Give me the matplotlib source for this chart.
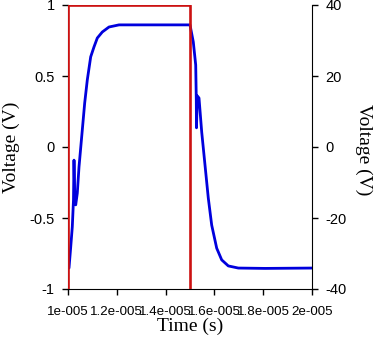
import matplotlib
matplotlib.use("Agg")
import matplotlib.pyplot as plt

# Square pulse (left axis, V)
pulse_t = [1.0e-5, 1.0e-5, 1.5e-5, 1.5e-5]
pulse_v = [-1.0, 1.0, 1.0, -1.0]

# Response (right axis, V)
resp_t = [1.0000e-5, 1.0041e-5, 1.0111e-5, 1.0176e-5, 1.0225e-5, 1.0246e-5, 1.0279e-5,
          1.0316e-5, 1.0381e-5, 1.0451e-5, 1.0586e-5, 1.0684e-5, 1.0791e-5, 1.0930e-5,
          1.1066e-5, 1.1201e-5, 1.1406e-5, 1.1680e-5, 1.2090e-5, 1.5000e-5, 1.5135e-5,
          1.5234e-5, 1.5258e-5, 1.5266e-5, 1.5299e-5, 1.5369e-5, 1.5480e-5, 1.5615e-5,
          1.5750e-5, 1.5889e-5, 1.6094e-5, 1.6299e-5, 1.6570e-5, 1.6980e-5, 1.8074e-5,
          2.0000e-5]
resp_v = [-34.1, -34.1, -28.2, -22.5, -14.9, -3.7, -14.9,
          -16.3, -13.0, -5.6, 4.8, 12.4, 18.9, 25.4,
          28.2, 30.7, 32.4, 33.8, 34.4, 34.4, 29.6,
          23.1, 13.2, 5.4, 14.4, 13.8, 4.2, -5.1,
          -14.4, -22.0, -28.5, -31.8, -33.5, -34.1, -34.2,
          -34.1]

x_ticks = [1.0e-5, 1.2e-5, 1.4e-5, 1.6e-5, 1.8e-5, 2.0e-5]
x_labels = ["1e-005", "1.2e-005", "1.4e-005", "1.6e-005", "1.8e-005", "2e-005"]
left_ticks = [-1, -0.5, 0, 0.5, 1]
left_labels = ["-1", "-0.5", "0", "0.5", "1"]
right_ticks = [-40, -20, 0, 20, 40]
right_labels = ["-40", "-20", "0", "20", "40"]

fig = plt.figure(figsize=(3.79, 3.51), dpi=100)
ax = fig.add_axes([68/379, 1-289/351, (312-68)/379, (289-5)/351])
ax2 = ax.twinx()

tick_font = dict(family="Liberation Sans", size=10.5)
xtick_font = dict(family="Liberation Sans", size=9.6)
label_font = dict(family="Liberation Serif", size=14)

ax.plot(pulse_t, pulse_v, color="#cc1111", lw=1.9, zorder=3)
ax2.plot(resp_t, resp_v, color="#0000dd", lw=2.0, zorder=2)

ax.set_xlim(1e-5, 2e-5)
ax.set_ylim(-1, 1)
ax2.set_ylim(-40, 40)

for a in (ax, ax2):
    a.spines["top"].set_visible(False)
    a.patch.set_visible(False)
ax2.spines["left"].set_visible(False)
ax2.spines["bottom"].set_visible(False)
ax.spines["right"].set_visible(False)
ax.set_zorder(2)
ax2.set_zorder(1)

ax.set_xticks(x_ticks)
ax.set_xticklabels(x_labels, **xtick_font)
ax.set_yticks(left_ticks)
ax.set_yticklabels(left_labels, **tick_font)
ax2.set_yticks(right_ticks)
ax2.set_yticklabels(right_labels, **tick_font)
ax.tick_params(axis="x", direction="out", length=4.5, width=1, pad=7.5)
ax.tick_params(axis="y", direction="out", length=4.5, width=1, pad=5)
ax2.tick_params(axis="y", direction="out", length=4.5, width=1, pad=5)

ax.set_xlabel("Time (s)", va="center", **label_font)
ax.xaxis.set_label_coords(0.5, -0.132)
ax.set_ylabel("Voltage (V)", va="center", ha="center", **label_font)
ax.yaxis.set_label_coords(-0.2336, 0.5)
ax2.set_ylabel("Voltage (V)", rotation=270, va="center", ha="center", **label_font)
ax2.yaxis.set_label_coords(1.213, 0.49)

fig.savefig("out.png", dpi=100)
